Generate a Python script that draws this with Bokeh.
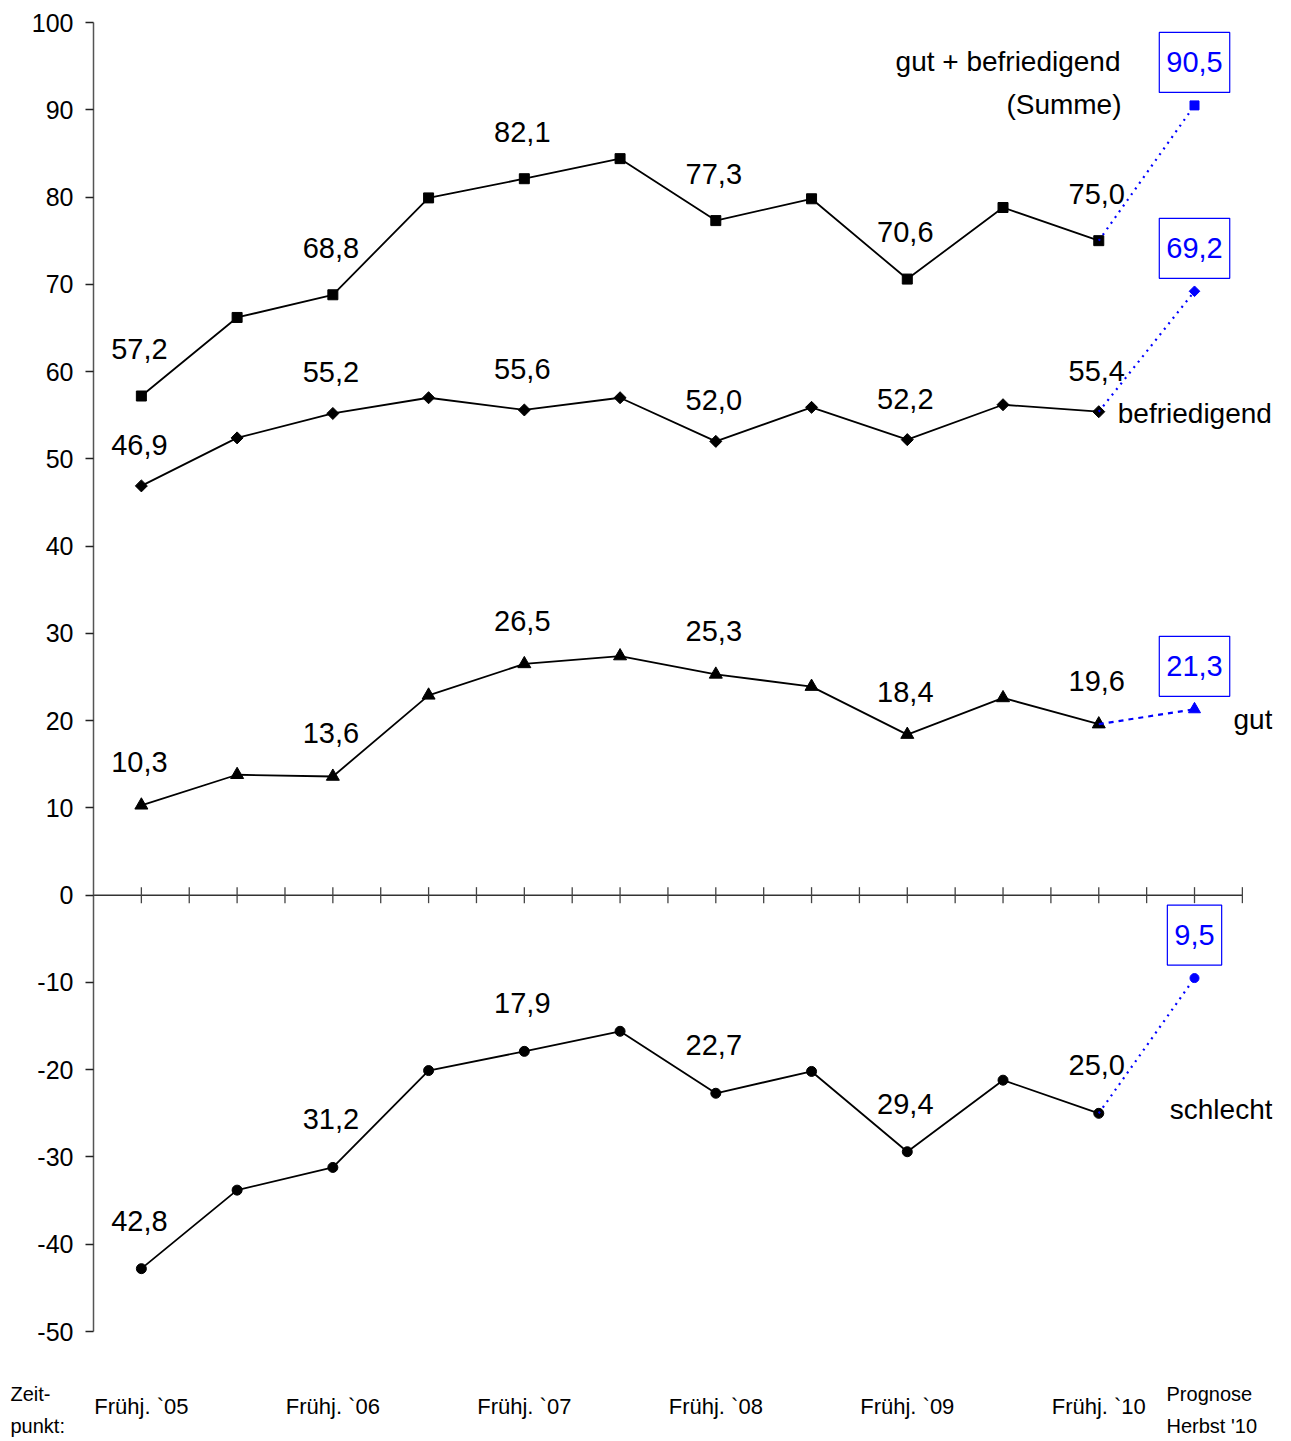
from bokeh.plotting import figure
from bokeh.models import Range1d, Label, FixedTicker
from bokeh.core.properties import value
from bokeh.embed import file_html
from bokeh.resources import INLINE
import numpy as np

# ---- data -------------------------------------------------------------
periods = ["Frühj. `05", "Herbst `05", "Frühj. `06", "Herbst `06", "Frühj. `07",
           "Herbst `07", "Frühj. `08", "Herbst `08", "Frühj. `09", "Herbst `09",
           "Frühj. `10"]
forecast_period = ["Prognose", "Herbst '10"]
time_caption = ["Zeit-", "punkt:"]

summe        = [57.2, 66.2, 68.8, 79.9, 82.1, 84.4, 77.3, 79.8, 70.6, 78.8, 75.0]
befriedigend = [46.9, 52.4, 55.2, 57.0, 55.6, 57.0, 52.0, 55.9, 52.2, 56.2, 55.4]
gut          = [10.3, 13.8, 13.6, 22.9, 26.5, 27.4, 25.3, 23.9, 18.4, 22.6, 19.6]
schlecht     = [42.8, 33.8, 31.2, 20.1, 17.9, 15.6, 22.7, 20.2, 29.4, 21.2, 25.0]

prog_summe, prog_befriedigend, prog_gut, prog_schlecht = 90.5, 69.2, 21.3, 9.5

y_ticks = list(range(-50, 101, 10))

# ---- layout -----------------------------------------------------------
W, H = 1291, 1441
AXIS_X, RIGHT = 93, 19           # y axis position, clipped strip on the right
TOP_PAD, BOTTOM_PAD = 22, 110    # pixels above 100 and below -50
PX_PER_UNIT = (H - BOTTOM_PAD - TOP_PAD) / 150.0
PX_PER_STEP = 95.74
y_max = 100 + TOP_PAD / PX_PER_UNIT
y_min = -50 - BOTTOM_PAD / PX_PER_UNIT
x_min = -0.5 - AXIS_X / PX_PER_STEP
x_max = x_min + (W - RIGHT) / PX_PER_STEP

FONT = "Liberation Sans"
BLUE = "#0000ff"

p = figure(width=W, height=H, output_backend="svg", toolbar_location=None,
           x_range=Range1d(x_min, x_max), y_range=Range1d(y_min, y_max),
           min_border_left=0, min_border_right=RIGHT,
           min_border_top=0, min_border_bottom=0,
           outline_line_color=None)
p.grid.visible = False
p.background_fill_color = "white"
p.border_fill_color = "white"

# y axis drawn at the left edge of the category band
ya = p.yaxis[0]
ya.fixed_location = -0.5
ya.ticker = FixedTicker(ticks=y_ticks)
ya.major_label_overrides = {t: str(t) for t in y_ticks}
ya.bounds = (-50, 100)
ya.axis_line_color = "#555555"
ya.axis_line_width = 1.5
ya.major_tick_out = 8
ya.major_tick_in = 0
ya.major_tick_line_color = "#222222"
ya.major_tick_line_width = 1.3
ya.minor_tick_line_color = None
ya.major_label_standoff = 12
ya.major_label_text_font = FONT
ya.major_label_text_font_size = "25px"
ya.major_label_text_color = "black"

# x axis: only the period labels, hung under the -50 line
xa = p.xaxis[0]
xa.fixed_location = -50
label_idx = list(range(0, len(periods), 2))
xa.ticker = FixedTicker(ticks=label_idx)
xa.major_label_overrides = {i: periods[i] for i in label_idx}
xa.axis_line_color = None
xa.major_tick_line_color = None
xa.minor_tick_line_color = None
xa.major_tick_out = 0
xa.major_tick_in = 0
xa.major_label_standoff = 62
xa.major_label_text_font = FONT
xa.major_label_text_font_size = "22px"
xa.major_label_text_color = "black"

# zero line with half-step ticks
idx = list(range(len(periods)))
n = len(periods)
p.segment(x0=[-0.5], y0=[0], x1=[n + 0.5], y1=[0], line_color="#333333", line_width=1.5)
half_steps = np.arange(0, n + 0.51, 0.5)
p.scatter(x=half_steps, y=np.zeros_like(half_steps), marker="dash", angle=np.pi / 2,
          size=16, line_color="#444444", line_width=1.3)


def fmt(v):
    return f"{v:.1f}".replace(".", ",")


series = [
    # values, sign, marker, size, angle, label offset, forecast, dash
    (summe, 1, "square", 10, 0, -47, prog_summe, "2 5"),
    (befriedigend, 1, "square", 8.5, np.pi / 4, -41, prog_befriedigend, "2 5"),
    (gut, 1, "triangle", 13, 0, -43, prog_gut, "5 5"),
    (schlecht, -1, "circle", 10, 0, -48, prog_schlecht, "2 5"),
]

for vals, sign, marker, size, ang, lab_off, prog, dash in series:
    ys = [sign * v for v in vals]
    p.line(idx, ys, line_color="black", line_width=1.8)
    p.scatter(idx, ys, marker=marker, size=size, angle=ang,
              fill_color="black", line_color="black")
    # forecast link and point
    p.line([n - 1, n], [ys[-1], sign * prog], line_color=BLUE, line_width=2.2,
           line_dash=dash)
    p.scatter([n], [sign * prog], marker=marker, size=size - 1, angle=ang,
              fill_color=BLUE, line_color=BLUE)
    # value labels
    p.text(x=label_idx, y=[ys[i] for i in label_idx],
           text=[fmt(vals[i]) for i in label_idx],
           text_align="center", text_baseline="middle", x_offset=-2, y_offset=lab_off,
           text_font=value(FONT), text_font_size="29px", text_color="black")
    # boxed forecast value
    p.add_layout(Label(x=n, y=sign * prog, text=fmt(prog), y_offset=43,
                       text_align="center", text_baseline="middle",
                       text_font=FONT, text_font_size="29px", text_color=BLUE,
                       border_line_color=BLUE, border_line_width=1.2,
                       background_fill_color="white", padding=(7, 20)))

# series names
name_kw = dict(text_baseline="middle", text_font=value(FONT), text_font_size="28px",
               text_color="black")
p.text(x=[n], y=[prog_summe], text=["gut + befriedigend"], text_align="right",
       x_offset=-74, y_offset=-44, **name_kw)
p.text(x=[n], y=[prog_summe], text=["(Summe)"], text_align="right",
       x_offset=-73, y_offset=-1, **name_kw)
p.text(x=[n - 1], y=[befriedigend[-1]], text=["befriedigend"], text_align="left",
       x_offset=19, y_offset=2, **name_kw)
p.text(x=[n], y=[prog_gut], text=["gut"], text_align="left",
       x_offset=39, y_offset=10, **name_kw)
p.text(x=[n - 1], y=[-schlecht[-1]], text=["schlecht"], text_align="left",
       x_offset=71, y_offset=-4, **name_kw)

# captions under the plot, left and right
cap_kw = dict(text_font=value(FONT), text_font_size="20px", text_color="black",
              text_align="left", text_baseline="middle")
p.text(x=[-0.5, -0.5], y=[-50, -50], text=time_caption, x_offset=-83,
       y_offset=[62, 94], **cap_kw)
p.text(x=[n, n], y=[-50, -50], text=forecast_period, x_offset=-28,
       y_offset=[62, 94], **cap_kw)

open("out.html", "w").write(file_html(p, INLINE))
